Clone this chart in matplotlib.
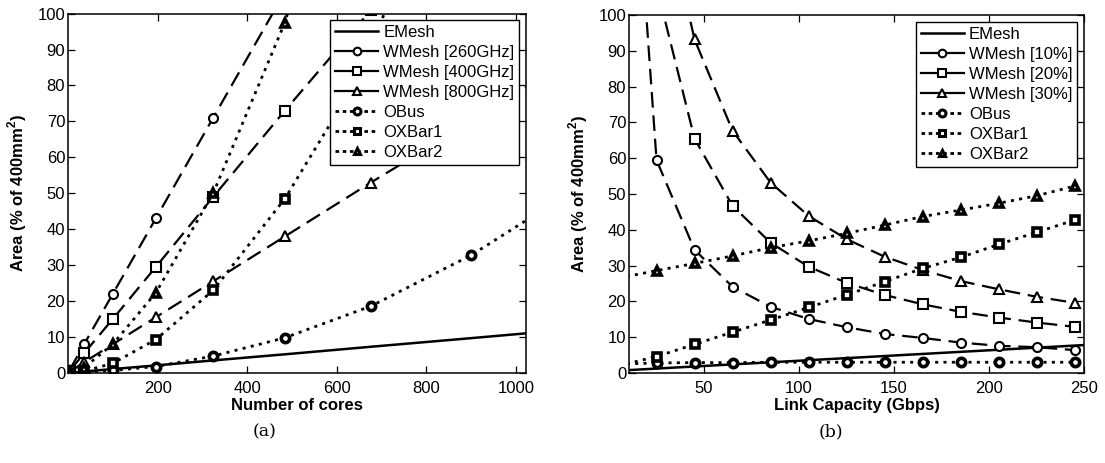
import numpy as np
import matplotlib
matplotlib.use('Agg')
import matplotlib.pyplot as plt
from matplotlib.lines import Line2D

plt.rcParams['font.family'] = ['Liberation Sans', 'DejaVu Sans']
plt.rcParams['mathtext.fontset'] = 'custom'
plt.rcParams['mathtext.bf'] = 'Liberation Sans:bold'
plt.rcParams['axes.linewidth'] = 1.1

################ data (a)
cores = [4, 36, 100, 196, 324, 484, 676, 900, 1156]
emesh_a = [0.04, 0.4, 1.1, 2.1, 3.5, 5.2, 7.3, 9.7, 12.5]
wmesh260 = [0.9, 8, 22, 43, 71, 106, 149, 198, 254]
wmesh400 = [0.6, 5.5, 15, 29.5, 49, 73, 101, 135, 173]
wmesh800 = [0.3, 3, 8, 15.5, 25.5, 38, 53, 70, 90]
obus_a = [0.1, 0.3, 0.7, 1.8, 4.7, 9.8, 18.6, 32.8, 53]
oxbar1_a = [0.05, 0.5, 2.7, 9.3, 23, 48.5, 88, 180, 280]
oxbar2_a = [0.2, 1.5, 8, 22.3, 50, 97.5, 180, 300, 450]

################ data (b)
capacity = [5, 25, 45, 65, 85, 105, 125, 145, 165, 185, 205, 225, 245]
emesh_x_b = [5, 255]
emesh_b = [0.65, 7.95]
wmesh10 = [210, 59.5, 34.4, 24.1, 18.5, 15.1, 12.8, 10.9, 9.8, 8.5, 7.6, 7.2, 6.4]
wmesh20 = [400, 108, 65.5, 46.7, 36.4, 29.7, 25.2, 21.8, 19.2, 17.1, 15.5, 14.1, 12.9]
wmesh30 = [600, 140, 93.2, 67.7, 53.2, 43.9, 37.4, 32.5, 28.8, 25.7, 23.4, 21.3, 19.6]
obus_b = [2.5, 2.8, 2.9, 2.9, 3.0, 3.0, 3.0, 3.0, 3.0, 3.0, 3.0, 3.0, 3.0]
oxbar1_b = [2.0, 4.6, 8.0, 11.4, 14.8, 18.3, 21.8, 25.5, 29.2, 32.3, 35.9, 39.3, 42.7]
oxbar2_b = [26.5, 28.6, 30.6, 32.7, 35.0, 36.9, 39.0, 41.3, 43.7, 45.5, 47.4, 49.5, 52.2]

labels_a = ['EMesh', 'WMesh [260GHz]', 'WMesh [400GHz]', 'WMesh [800GHz]', 'OBus', 'OXBar1', 'OXBar2']
labels_b = ['EMesh', 'WMesh [10%]', 'WMesh [20%]', 'WMesh [30%]', 'OBus', 'OXBar1', 'OXBar2']

DASH = (7, 3.5)
DOT = (1.1, 1.9)
markers = ['o', 's', '^']

wstyle = dict(color='k', lw=1.6, ms=6.5, mfc='w', mec='k', mew=1.5)
ostyle = dict(color='k', lw=2.0, ms=6.0, mfc='w', mec='k', mew=2.6)


def draw(ax, x, emx, em, wm, ob, ox1, ox2, labels):
    ax.plot(emx, em, color='k', lw=1.8, solid_capstyle='butt')
    for y, m in zip(wm, markers):
        ax.plot(x, y, marker=m, dashes=DASH, **wstyle)
    for y, m in zip([ob, ox1, ox2], markers):
        ax.plot(x, y, marker=m, dashes=DOT, **ostyle)

    handles = [Line2D([], [], color='k', lw=1.8)]
    for m in markers:
        handles.append(Line2D([], [], marker=m, ls='-', **dict(wstyle, ms=5.5)))
    for m in markers:
        handles.append(Line2D([], [], marker=m, dashes=(1.3, 1.3), **dict(ostyle, ms=5.0, mew=2.2)))
    leg = ax.legend(handles, labels, loc='upper right', fontsize=12, fancybox=False,
                    framealpha=1, edgecolor='k', handlelength=2.6, handletextpad=0.3,
                    labelspacing=0.3, borderpad=0.3, borderaxespad=0.4)
    leg.get_frame().set_linewidth(1.0)

    ax.set_ylim(0, 100)
    ax.set_yticks(np.arange(0, 101, 10))
    ax.tick_params(direction='in', length=5, width=0.9, top=True, right=True,
                   labelsize=12)
    ax.tick_params(axis='y', pad=2)
    ax.tick_params(axis='x', pad=6)
    ax.set_ylabel(r'Area (% of 400mm$^\mathbf{2}$)', fontsize=12, fontweight='bold', labelpad=6)


fig = plt.figure(figsize=(11.05, 4.63), dpi=100)

ax1 = fig.add_axes([0.0615, 0.1944, 0.4145, 0.7762])
draw(ax1, cores, cores, emesh_a, [wmesh260, wmesh400, wmesh800],
     obus_a, oxbar1_a, oxbar2_a, labels_a)
ax1.set_xlim(0, 1022)
ax1.set_xticks([200, 400, 600, 800, 1000])
ax1.set_xlabel('Number of cores', fontsize=12, fontweight='bold', labelpad=1)

ax2 = fig.add_axes([0.5692, 0.1944, 0.4118, 0.7732])
draw(ax2, capacity, emesh_x_b, emesh_b, [wmesh10, wmesh20, wmesh30],
     obus_b, oxbar1_b, oxbar2_b, labels_b)
ax2.set_xlim(10.5, 250)
ax2.set_xticks([50, 100, 150, 200, 250])
ax2.set_xlabel('Link Capacity (Gbps)', fontsize=12, fontweight='bold', labelpad=1)

fig.text(265 / 1105, 1 - 432 / 463, '(a)', family='DejaVu Serif', fontsize=12.5, ha='center', va='center')
fig.text(831 / 1105, 1 - 432 / 463, '(b)', family='DejaVu Serif', fontsize=12.5, ha='center', va='center')

plt.savefig('out.png', dpi=100, facecolor='w')
